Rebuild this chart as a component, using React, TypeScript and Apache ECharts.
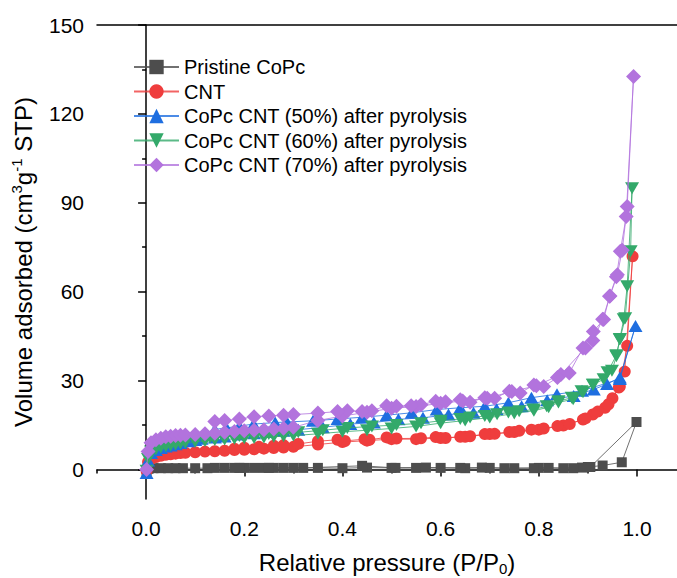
import React, { useEffect, useRef } from 'react';
import * as echarts from 'echarts';

const SERIES_NAMES = [
  'Pristine CoPc',
  'CNT',
  'CoPc CNT (50%) after pyrolysis',
  'CoPc CNT (60%) after pyrolysis',
  'CoPc CNT (70%) after pyrolysis',
];
const COLORS = ['#4d4d4d', '#ef3d3d', '#1e6ee0', '#33a96a', '#b273dd'];

const X_MAJOR = [0, 0.2, 0.4, 0.6, 0.8, 1.0];
const X_MINOR = [-0.1, 0.1, 0.3, 0.5, 0.7, 0.9];
const Y_MAJOR = [0, 30, 60, 90, 120, 150];
const Y_MINOR = [15, 45, 75, 105, 135];

// [P/P0, volume] — adsorption then desorption branch
const GRAY_ADS = [[0.001, -0.8], [0.005, 0.2], [0.015, 0.4], [0.03, 0.4], [0.045, 0.4], [0.06, 0.4], [0.075, 0.4], [0.1, 0.4], [0.125, 0.4], [0.14, 0.5], [0.16, 0.5], [0.18, 0.5], [0.2, 0.5], [0.22, 0.5], [0.24, 0.5], [0.26, 0.5], [0.28, 0.5], [0.3, 0.5], [0.35, 0.5], [0.4, 0.4], [0.45, 0.6], [0.5, 0.5], [0.55, 0.5], [0.6, 0.5], [0.65, 0.4], [0.7, 0.5], [0.75, 0.4], [0.8, 0.5], [0.85, 0.4], [0.9, 0.8], [0.93, 1.3], [0.969, 2.4], [0.999, 16]];
const GRAY_DES = [[0.905, 0.8], [0.888, 0.6], [0.87, 0.4], [0.82, 0.5], [0.79, 0.4], [0.73, 0.4], [0.684, 0.6], [0.64, 0.5], [0.57, 0.6], [0.508, 0.5], [0.44, 1.2], [0.32, 0.5], [0.25, 0.5], [0.19, 0.5]];

const CNT_ADS = [[0.001, -0.5], [0.004, 2.5], [0.01, 3.5], [0.02, 4.2], [0.03, 4.6], [0.04, 4.9], [0.05, 5.1], [0.06, 5.3], [0.07, 5.5], [0.08, 5.6], [0.1, 5.8], [0.12, 6], [0.14, 6.1], [0.16, 6.3], [0.18, 6.5], [0.2, 6.6], [0.22, 6.8], [0.24, 7], [0.26, 7.2], [0.28, 7.4], [0.3, 7.6], [0.35, 8.4], [0.4, 9.2], [0.45, 9.7], [0.5, 10.2], [0.55, 10.2], [0.6, 10.6], [0.65, 11], [0.7, 11.9], [0.75, 12.6], [0.8, 13.4], [0.85, 14.8], [0.89, 16.8], [0.91, 18.5], [0.935, 20.8], [0.95, 24], [0.965, 28], [0.98, 41.7], [0.991, 71.9]];
const CNT_DES = [[0.975, 33], [0.963, 27.6], [0.942, 22], [0.92, 19.5], [0.895, 17.2], [0.863, 15.3], [0.838, 14.6], [0.81, 13.8], [0.785, 13.4], [0.76, 13], [0.74, 12.6], [0.71, 12], [0.69, 11.9], [0.66, 11.2], [0.64, 11], [0.61, 10.6], [0.59, 10.9], [0.56, 10.5], [0.51, 10.4], [0.49, 10.8], [0.455, 10], [0.445, 10.2], [0.405, 9.6], [0.39, 10], [0.35, 9.5], [0.31, 8.6], [0.28, 8.2], [0.26, 8], [0.23, 7.6], [0.2, 7.3], [0.18, 7]];

const C50_ADS = [[0.001, -1.2], [0.004, 3], [0.01, 5.5], [0.02, 6.5], [0.03, 7.2], [0.04, 7.7], [0.05, 8.1], [0.06, 8.5], [0.07, 8.9], [0.086, 9.5], [0.1, 9.9], [0.113, 10.3], [0.14, 10.8], [0.16, 11.1], [0.19, 11.8], [0.22, 12.2], [0.25, 12.6], [0.28, 13], [0.31, 13.4], [0.36, 14.2], [0.416, 15.3], [0.464, 15.8], [0.514, 16.9], [0.564, 17.4], [0.616, 18.5], [0.667, 19.1], [0.714, 20.4], [0.765, 21.3], [0.817, 23.3], [0.871, 24.8], [0.912, 27], [0.939, 28.8], [0.965, 31], [0.997, 48.4]];
const C50_DES = [[0.965, 30.5], [0.888, 26.5], [0.837, 25.4], [0.785, 24.2], [0.738, 22.5], [0.69, 21.3], [0.64, 20.8], [0.592, 20.2], [0.541, 19.1], [0.49, 18.3], [0.44, 17.6], [0.39, 17], [0.34, 16.4], [0.287, 16], [0.263, 15.8], [0.219, 15.3], [0.19, 14.6], [0.164, 14], [0.14, 13.5]];

const C60_ADS = [[0.001, -0.5], [0.004, 3.5], [0.01, 6], [0.02, 6.8], [0.03, 7.4], [0.04, 7.8], [0.05, 8.1], [0.06, 8.4], [0.07, 8.7], [0.08, 9], [0.1, 9.3], [0.12, 9.6], [0.14, 9.9], [0.16, 10.1], [0.18, 10.3], [0.2, 10.5], [0.22, 10.6], [0.24, 10.8], [0.26, 11], [0.28, 11.2], [0.3, 11.4], [0.35, 12], [0.4, 12.7], [0.45, 13.2], [0.5, 13.8], [0.55, 14.5], [0.6, 15.6], [0.65, 16.5], [0.7, 17.5], [0.75, 18.9], [0.79, 19.8], [0.82, 21], [0.84, 22.6], [0.87, 23.7], [0.89, 26], [0.91, 28.6], [0.932, 30.4], [0.949, 33.3], [0.958, 38.2], [0.965, 44], [0.973, 50.7], [0.98, 61.8], [0.99, 94.9]];
const C60_DES = [[0.987, 73.6], [0.976, 51], [0.965, 43.8], [0.958, 38.5], [0.94, 32.8], [0.911, 28.6], [0.887, 26.4], [0.867, 24.2], [0.84, 23], [0.816, 21.3], [0.789, 20.2], [0.76, 19.6], [0.738, 19.2], [0.715, 18.6], [0.69, 18], [0.66, 17.5], [0.64, 17], [0.6, 16.4], [0.56, 15.6], [0.51, 15], [0.46, 14.5], [0.41, 14], [0.36, 13.2], [0.31, 12.5], [0.28, 12.2], [0.25, 11.9], [0.22, 11.6], [0.19, 11.3], [0.16, 11], [0.13, 10.7]];

const C70_ADS = [[0.001, 0], [0.004, 6], [0.01, 9], [0.02, 10], [0.03, 10.5], [0.04, 11], [0.05, 11.2], [0.06, 11.4], [0.07, 11.5], [0.08, 11.6], [0.1, 11.8], [0.12, 12], [0.14, 12.2], [0.16, 12.5], [0.18, 12.8], [0.2, 13], [0.22, 13.2], [0.24, 13.4], [0.26, 13.6], [0.28, 13.9], [0.3, 14.2], [0.35, 16.5], [0.4, 18], [0.45, 19.3], [0.5, 20.6], [0.55, 21.2], [0.6, 22.3], [0.645, 23.1], [0.695, 24], [0.745, 26.3], [0.795, 28.2], [0.845, 32], [0.895, 41], [0.91, 43.5], [0.93, 50.7], [0.945, 58.5], [0.96, 65.7], [0.97, 74], [0.98, 88.7], [0.993, 132.6]];
const C70_DES = [[0.978, 85.4], [0.966, 73.6], [0.958, 65], [0.944, 58.4], [0.932, 50.6], [0.911, 46.5], [0.89, 41], [0.862, 32.5], [0.838, 31], [0.81, 28], [0.79, 28.5], [0.762, 25.8], [0.74, 26.4], [0.71, 24], [0.69, 24.2], [0.66, 22.7], [0.64, 23.5], [0.61, 22.8], [0.59, 23], [0.56, 21.8], [0.54, 21.5], [0.51, 21.3], [0.49, 21.5], [0.46, 19.8], [0.44, 19.5], [0.41, 19.8], [0.39, 19.5], [0.35, 19], [0.3, 18.5], [0.28, 18.3], [0.25, 18], [0.22, 17.8], [0.19, 17], [0.16, 16.5], [0.14, 16.2]];

const DATA = [
  [...GRAY_ADS, ...GRAY_DES],
  [...CNT_ADS, ...CNT_DES],
  [...C50_ADS, ...C50_DES],
  [...C60_ADS, ...C60_DES],
  [...C70_ADS, ...C70_DES],
];
const SYMBOLS = ['rect', 'circle', 'triangle', 'triangle', 'diamond'];
const SYMBOL_SIZES: any[] = [10, 12, [14, 12], [14, 12], [15, 15]];
const SYMBOL_ROT = [0, 0, 0, 180, 0];

const FONT = '"Liberation Sans", Arial, sans-serif';

export default function App() {
  const ref = useRef<HTMLDivElement>(null);
  useEffect(() => {
    if (!ref.current) return;
    const chart = echarts.init(ref.current, undefined, { renderer: 'svg' });
    const XMIN = -0.1;
    const XMAX = 1.0815;
    const YMIN = -10;
    const YMAX = 150;
    const axisLine = { show: true, lineStyle: { color: '#000', width: 1.5 } };
    chart.setOption({
      animation: false,
      backgroundColor: '#fff',
      textStyle: { fontFamily: FONT },
      grid: { left: 97, top: 25, right: 0, bottom: 79, containLabel: false, outerBoundsMode: 'none' },
      legend: {
        orient: 'vertical',
        left: 133,
        top: 57,
        padding: 0,
        itemWidth: 45,
        itemHeight: 18,
        itemGap: 4.5,
        data: SERIES_NAMES,
        textStyle: { fontSize: 20, lineHeight: 20, color: '#000', fontFamily: FONT },
      },
      xAxis: [
        {
          type: 'value', min: XMIN, max: XMAX, position: 'bottom',
          axisLine,
          splitLine: { show: false },
          axisTick: { show: true, inside: false, length: 7, customValues: X_MAJOR, lineStyle: { color: '#000', width: 1.5 } },
          axisLabel: {
            customValues: X_MAJOR, margin: 19, fontSize: 21, color: '#000', fontFamily: FONT,
            formatter: (v: number) => v.toFixed(1),
          },
          name: 'Relative pressure (P/P{sub|0})',
          nameLocation: 'middle',
          nameGap: 49,
          nameTextStyle: {
            fontSize: 24, color: '#000', fontFamily: FONT, lineHeight: 28,
            rich: { sub: { fontSize: 15, lineHeight: 14, verticalAlign: 'bottom', color: '#000', fontFamily: FONT } },
          },
        },
        {
          type: 'value', min: XMIN, max: XMAX, position: 'bottom',
          axisLine: { show: false },
          splitLine: { show: false },
          axisTick: { show: true, inside: false, length: 4, customValues: X_MINOR, lineStyle: { color: '#000', width: 1.5 } },
          axisLabel: { show: false },
        },
        {
          type: 'value', min: XMIN, max: XMAX, position: 'top',
          axisLine,
          splitLine: { show: false },
          axisTick: { show: false },
          axisLabel: { show: false },
        },
      ],
      yAxis: [
        {
          type: 'value', min: YMIN, max: YMAX, position: 'left',
          axisLine,
          splitLine: { show: false },
          axisTick: { show: true, inside: false, length: 8, customValues: Y_MAJOR, lineStyle: { color: '#000', width: 1.5 } },
          axisLabel: { customValues: Y_MAJOR, margin: 13, fontSize: 21, color: '#000', fontFamily: FONT },
          name: 'Volume adsorbed (cm{sup|3}g{sup|-1} STP)',
          nameLocation: 'middle',
          nameRotate: 90,
          nameGap: 60,
          nameTextStyle: {
            fontSize: 24, color: '#000', fontFamily: FONT, lineHeight: 28,
            rich: { sup: { fontSize: 15, lineHeight: 14, verticalAlign: 'top', color: '#000', fontFamily: FONT } },
          },
        },
        {
          type: 'value', min: YMIN, max: YMAX, position: 'left',
          axisLine: { show: false },
          splitLine: { show: false },
          axisTick: { show: true, inside: false, length: 4, customValues: Y_MINOR, lineStyle: { color: '#000', width: 1.5 } },
          axisLabel: { show: false },
        },
      ],
      series: SERIES_NAMES.map((name, i) => ({
        name,
        type: 'line',
        xAxisIndex: 0,
        yAxisIndex: 0,
        data: DATA[i],
        symbol: SYMBOLS[i],
        symbolSize: SYMBOL_SIZES[i],
        symbolRotate: SYMBOL_ROT[i],
        showAllSymbol: true,
        color: COLORS[i],
        itemStyle: { color: COLORS[i] },
        lineStyle: { color: COLORS[i], width: 1, opacity: 0.8 },
        emphasis: { disabled: true },
        z: 2 + i,
      })),
    });
    return () => chart.dispose();
  }, []);
  return <div ref={ref} style={{ position: 'fixed', left: 0, top: 0, width: 677, height: 578 }} />;
}
